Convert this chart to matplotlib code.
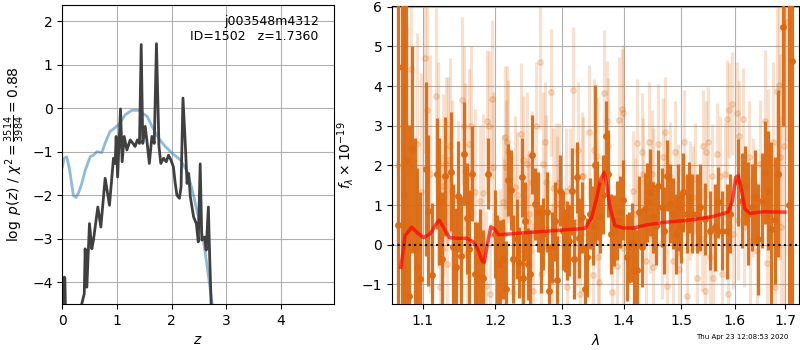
import matplotlib
matplotlib.use("Agg")
import matplotlib.pyplot as plt
from matplotlib.ticker import NullLocator, FixedLocator, FixedFormatter

# ---- left panel: redshift fit ----
z_pz = [0.0, 0.02, 0.035, 0.045, 0.06, 0.1, 0.2, 0.3, 0.33, 0.355, 0.40, 0.416, 0.447,
        0.495, 0.538, 0.568, 0.648, 0.703, 0.782, 0.861, 0.934, 0.965, 0.983, 1.01,
        1.063, 1.093, 1.13, 1.18, 1.24, 1.29, 1.33, 1.37, 1.41, 1.441, 1.47, 1.515,
        1.557, 1.59, 1.637, 1.68, 1.72, 1.766, 1.80, 1.85, 1.90, 1.94, 1.985, 2.03,
        2.064, 2.095, 2.14, 2.17, 2.205, 2.247, 2.28, 2.31, 2.34, 2.40, 2.45, 2.485,
        2.52, 2.55, 2.60, 2.63, 2.67, 2.69, 2.72, 2.76, 2.80]
logpz = [-5.2, -4.9, -3.88, -3.9, -4.9, -5.6, -6.0, -5.2, -4.9, -4.49, -4.26, -3.23, -4.11,
         -2.65, -3.23, -3.03, -2.27, -2.73, -1.61, -2.23, -1.15, -1.27, -0.65, -1.58,
         -0.02, -1.23, -0.65, -0.96, -0.73, -0.81, -0.88, -0.73, -0.81, 1.46, -0.81, -0.42,
         -0.88, -1.27, -0.65, -0.81, 1.48, -0.88, -1.27, -1.15, -1.23, -1.08, -1.19, -1.35,
         -1.73, -2.0, -2.07, -1.81, 0.23, -0.81, -1.73, -1.5, -2.04, -2.50, -2.65, -3.07,
         -1.28, -3.03, -2.96, -3.26, -2.27, -3.26, -4.49, -5.3, -6.0]

z_chi = [0.0, 0.03, 0.08, 0.13, 0.2, 0.25, 0.29, 0.35, 0.42, 0.51, 0.57, 0.63, 0.72, 0.78,
         0.87, 1.03, 1.15, 1.27, 1.39, 1.45, 1.55, 1.64, 1.76, 1.88, 2.03, 2.16, 2.28,
         2.37, 2.46, 2.58, 2.64, 2.69, 2.74, 2.80]
chi_scaled = [-1.35, -1.15, -1.12, -1.4, -2.0, -2.05, -1.96, -1.75, -1.42, -1.11, -1.08,
              -1.0, -1.02, -0.81, -0.54, -0.38, -0.15, -0.05, -0.05, -0.10, -0.19, -0.42,
              -0.69, -0.88, -1.06, -1.19, -1.45, -1.85, -2.35, -3.05, -3.57, -4.03, -4.49, -5.2]

# ---- right panel: spectrum (two orients) ----
lam_a = [1.0672, 1.0726, 1.0760, 1.0781, 1.0825, 1.0864, 1.0898, 1.0929, 1.0964, 1.1040,
         1.1074, 1.1119, 1.1185, 1.1220, 1.1260, 1.1296, 1.1373, 1.1408, 1.1441, 1.1476,
         1.1513, 1.1558, 1.1600, 1.1627, 1.1669, 1.1706, 1.1739, 1.1783, 1.1821, 1.1901,
         1.1999, 1.2032, 1.2070, 1.2109, 1.2157, 1.2191, 1.2226, 1.2264, 1.2314, 1.2352,
         1.2388, 1.2412, 1.2438, 1.2478, 1.2513, 1.2548, 1.2588, 1.2638, 1.2674, 1.2713,
         1.2765, 1.2805, 1.2842, 1.2894, 1.2930, 1.2972, 1.3014, 1.3050, 1.3086, 1.3117,
         1.3155, 1.3191, 1.3234, 1.3276, 1.3319, 1.3362, 1.3404, 1.3447, 1.3491, 1.3528,
         1.3566, 1.3610, 1.3664, 1.3708, 1.3746, 1.3786, 1.3841, 1.3885, 1.3941, 1.3996,
         1.4053, 1.4097, 1.4137, 1.4176, 1.4222, 1.4267, 1.4308, 1.4366, 1.4406, 1.4452,
         1.4510, 1.4557, 1.4597, 1.4657, 1.4697, 1.4745, 1.4803, 1.4851, 1.4910, 1.4951,
         1.4994, 1.5041, 1.5102, 1.5149, 1.5193, 1.5284, 1.5346, 1.5438, 1.5532, 1.5625,
         1.5688, 1.5751, 1.5846, 1.5909, 1.6069, 1.6134, 1.6198, 1.6263, 1.6329, 1.6394,
         1.6459, 1.6525, 1.6591, 1.6657, 1.6724, 1.6791, 1.6858, 1.6958, 1.7078, 1.7133]
flux_a = [0.5, 4.48, 1.24, 2.12, -1.29, 2.40, -0.11, -0.57, -0.87, 1.91,
          0.86, -0.76, 1.79, 1.09, -0.36, 1.72, 1.84, -0.07, -0.57, 1.22,
          -0.28, 2.29, 0.67, -0.11, 1.79, -0.74, -0.84, -0.40, -0.83, 1.79,
          0.27, -0.45, -0.49, -0.36, -1.12, 1.63, 1.38, -0.36, 0.14, -0.45,
          1.70, -0.83, 0.59, -0.49, -0.74, 2.27, 1.03, 0.82, -0.11, 0.27,
          0.82, -1.18, -0.07, 0.59, -0.89, 1.36, 0.35, 0.10, 0.10, 0.10,
          1.35, -0.36, 1.70, 0.17, 0.69, -1.12, -0.32, 0.78, 0.48, 2.02,
          1.11, 0.69, 1.26, 2.73, 1.79, 0.27, 0.35, 0.61, 0.82, 1.13,
          -0.32, -0.07, 0.06, -0.67, -0.64, 0.82, -0.07, 0.90, 1.07, 1.32,
          0.69, 0.48, 1.49, 0.94, 0.35, 1.74, 1.03, 0.78, 0.27, 0.94,
          0.44, 1.32, 0.78, 1.19, 0.78, 0.78, 0.94, 0.65, 0.35, 0.44,
          1.07, 0.35, 0.34, 0.78, 1.57, 1.11, 1.49, 0.78, 0.94, 1.19,
          0.14, 1.11, 1.83, 1.36, 0.40, 0.61, 1.79, 5.5, 1.0, 4.62]
err_a = [8.0, 8.0, 8.0, 8.0, 4.3, 2.6, 2.8, 2.5, 2.2, 2.2,
         1.9, 1.8, 1.4, 1.6, 1.7, 1.5, 1.5, 1.6, 1.5, 1.4,
         1.5, 1.3, 1.4, 1.5, 1.2, 1.3, 1.4, 1.3, 1.2, 0.9,
         1.1, 1.2, 1.1, 1.0, 1.2, 0.9, 1.0, 1.1, 1.0, 0.9,
         1.0, 1.1, 1.0, 0.9, 1.1, 1.0, 0.9, 1.0, 1.1, 0.9,
         1.0, 1.2, 0.9, 1.0, 1.1, 0.9, 1.0, 0.8, 1.0, 0.9,
         1.1, 1.0, 0.9, 1.0, 0.9, 1.1, 1.0, 0.9, 1.0, 2.0,
         1.0, 0.9, 1.0, 0.9, 1.1, 1.0, 0.9, 1.0, 0.9, 1.0,
         1.1, 0.9, 1.0, 1.1, 1.0, 0.9, 1.0, 0.9, 1.0, 1.1,
         0.9, 1.0, 0.9, 1.0, 1.1, 0.9, 1.0, 0.9, 1.0, 1.1,
         0.9, 1.0, 1.0, 0.9, 1.0, 1.0, 1.1, 0.9, 1.0, 1.1,
         0.9, 1.0, 1.2, 1.0, 1.1, 1.2, 1.0, 1.3, 1.1, 1.2,
         1.4, 1.2, 1.3, 1.5, 2.2, 1.6, 2.1, 2.5, 8.0, 8.0]

lam_b = [1.0678, 1.0743, 1.0795, 1.0843, 1.0929, 1.0973, 1.1030, 1.1061, 1.1097, 1.1177,
         1.1208, 1.1231, 1.1254, 1.1275, 1.1308, 1.1321, 1.1343, 1.1366, 1.1389, 1.1480,
         1.1536, 1.1560, 1.1573, 1.1597, 1.1633, 1.1657, 1.1713, 1.1783, 1.1830, 1.1869,
         1.1887, 1.1916, 1.1926, 1.1950, 1.1965, 1.2070, 1.2118, 1.2128, 1.2143, 1.2158,
         1.2177, 1.2191, 1.2265, 1.2290, 1.2315, 1.2374, 1.2389, 1.2413, 1.2464, 1.2476,
         1.2502, 1.2539, 1.2551, 1.2604, 1.2664, 1.2679, 1.2714, 1.2740, 1.2756, 1.2833,
         1.2843, 1.2868, 1.2910, 1.2921, 1.2961, 1.3066, 1.3077, 1.3128, 1.3180, 1.3234,
         1.3260, 1.3287, 1.3314, 1.3340, 1.3436, 1.3501, 1.3517, 1.3557, 1.3570, 1.3599,
         1.3681, 1.3717, 1.3741, 1.3802, 1.3886, 1.3929, 1.3975, 1.3986, 1.3996, 1.4166,
         1.4195, 1.4235, 1.4309, 1.4337, 1.4383, 1.4435, 1.4452, 1.4482, 1.4496, 1.4510,
         1.4597, 1.4657, 1.4675, 1.4721, 1.4745, 1.4803, 1.4862, 1.4893, 1.4951, 1.4964,
         1.5054, 1.5103, 1.5163, 1.5212, 1.5255, 1.5286, 1.5378, 1.5397, 1.5439, 1.5458,
         1.5501, 1.5532, 1.5564, 1.5594, 1.5658, 1.5719, 1.5751, 1.5814, 1.5847, 1.5877,
         1.5896, 1.5942, 1.5973, 1.6038, 1.6068, 1.6088, 1.6165, 1.6179, 1.6282, 1.6296,
         1.6362, 1.6429, 1.6493, 1.6594, 1.6628, 1.6660, 1.6749, 1.6795, 1.6842, 1.6883,
         1.6893, 1.6914, 1.6975, 1.7030]
flux_b = [2.0, 3.0, 0.5, 4.44, 2.54, 1.32, 4.71, 3.40, 1.79, 3.76,
          2.00, -1.08, -0.11, 1.49, 2.04, -0.49, 2.14, 2.50, 1.36, 1.11,
          3.64, 3.00, 1.87, -0.21, 2.54, 3.00, 1.32, 1.11, 1.30, -1.04,
          3.11, 2.98, -1.25, 3.67, 1.95, -0.40, 1.07, 0.27, 2.71, 1.95,
          2.60, 2.36, -1.20, 1.45, 1.24, 2.79, -0.11, 2.14, 2.04, 0.59,
          0.78, 1.57, -1.16, 3.00, 4.61, -0.74, 2.04, 2.60, 1.57, 3.84,
          -0.66, 1.43, 1.46, 1.03, 1.57, 1.35, -1.08, 1.43, 3.89, 0.56,
          2.39, -1.25, 1.74, 1.72, 2.84, -0.76, 2.39, 2.23, -0.32, -0.95,
          3.82, 3.13, 2.50, -1.20, -0.53, 3.14, 3.43, 3.33, -0.08, 1.36,
          0.78, 2.57, 2.33, 1.79, -0.40, 2.60, 0.69, 1.79, -0.57, 1.53,
          2.54, 0.02, 2.20, 2.84, -1.04, 1.70, -0.40, 2.33, 1.15, -0.61,
          2.60, -1.29, 1.11, 1.19, 1.66, -0.83, 0.14, 2.50, -1.16, 2.33,
          2.58, -0.32, 1.74, -0.83, 2.28, 1.74, -0.74, 1.79, 3.16, -1.25,
          3.39, 3.55, 0.27, 3.31, 0.61, 2.73, 3.16, 0.44, 2.22, 0.10,
          1.19, -0.15, 2.04, 3.12, -0.45, 2.22, 2.60, -1.08, 3.87, 4.03,
          2.22, 0.44, 2.5, 5.61]
err_b = [6.0, 4.0, 5.0, 2.6, 2.8, 3.0, 2.4, 2.6, 3.0, 2.2,
         2.6, 2.5, 2.4, 2.3, 2.2, 2.4, 2.1, 2.2, 2.3, 2.0,
         2.1, 2.0, 2.2, 2.1, 1.9, 2.0, 2.1, 1.9, 2.0, 1.9,
         1.8, 1.9, 1.8, 2.0, 1.9, 1.8, 1.7, 1.9, 1.8, 1.7,
         1.9, 1.8, 1.7, 1.8, 1.6, 1.8, 1.7, 1.6, 1.8, 1.7,
         1.6, 1.8, 1.7, 1.6, 1.7, 1.6, 1.8, 1.5, 1.7, 1.6,
         1.7, 1.5, 1.6, 1.7, 1.5, 1.6, 1.7, 1.5, 1.6, 1.6,
         1.7, 1.5, 1.6, 1.5, 1.7, 1.6, 1.8, 1.5, 1.6, 1.7,
         1.6, 1.5, 1.7, 1.6, 1.5, 1.6, 1.5, 1.7, 1.6, 1.5,
         1.4, 1.6, 1.5, 1.4, 1.6, 1.5, 1.4, 1.6, 1.5, 1.4,
         1.5, 1.4, 1.5, 1.4, 1.5, 1.4, 1.5, 1.3, 1.4, 1.5,
         1.3, 1.4, 1.5, 1.3, 1.4, 1.5, 1.3, 1.4, 1.5, 1.3,
         1.4, 1.5, 1.3, 1.4, 1.3, 1.5, 1.4, 1.3, 1.5, 1.4,
         1.2, 1.3, 1.4, 1.3, 1.5, 1.4, 1.3, 1.5, 1.4, 1.6,
         1.5, 1.7, 1.6, 1.8, 1.9, 1.7, 2.0, 2.2, 2.1, 2.4,
         2.6, 2.8, 5.0, 3.0]

lam_model = [1.0715, 1.0768, 1.0855, 1.0921, 1.1008, 1.1097, 1.1177, 1.1220, 1.1274, 1.1356,
             1.1455, 1.1589, 1.1680, 1.1750, 1.1810, 1.1842, 1.1888, 1.1936, 1.1983, 1.2052,
             1.2216, 1.2513, 1.3022, 1.3367, 1.3475, 1.3557, 1.3621, 1.3680, 1.3719, 1.3774,
             1.3857, 1.3996, 1.4167, 1.4397, 1.4689, 1.5163, 1.5592, 1.5874, 1.5958, 1.6022,
             1.6067, 1.6134, 1.6198, 1.6296, 1.6560, 1.6995]
flux_model = [-0.57, 0.23, 0.44, 0.31, 0.18, 0.27, 0.52, 0.62, 0.44, 0.18,
              0.16, 0.16, 0.08, -0.11, -0.40, -0.45, 0.02, 0.45, 0.40, 0.25,
              0.27, 0.31, 0.37, 0.41, 0.69, 1.19, 1.66, 1.82, 1.53, 0.94,
              0.48, 0.42, 0.42, 0.50, 0.56, 0.62, 0.71, 0.82, 1.11, 1.70,
              1.74, 1.36, 0.90, 0.79, 0.83, 0.82]

z_ticks = [0, 1, 2, 3, 4]
pz_ticks = [-4, -3, -2, -1, 0, 1, 2]
lam_ticks = [1.1, 1.2, 1.3, 1.4, 1.5, 1.6, 1.7]
flux_ticks = [-1, 0, 1, 2, 3, 4, 5, 6]

orange = "#dc6a12"

fig = plt.figure(figsize=(8, 3.5), dpi=100)
ax1 = fig.add_axes([0.078, 0.131, 0.339, 0.855])
ax2 = fig.add_axes([0.490, 0.131, 0.509, 0.852])

# left: p(z)
ax1.plot(z_chi, chi_scaled, color="tab:blue", alpha=0.5, linewidth=2)
ax1.plot(z_pz, logpz, color="0.25", linewidth=2)
ax1.set_xlim(0, 4.96)
ax1.set_ylim(-4.5, 2.37)
ax1.set_xticks(z_ticks)
ax1.set_yticks(pz_ticks)
ax1.grid(True)
ax1.set_xlabel("$z$")
ax1.set_ylabel(r"$\log\ p(z)$ / $\chi^2=\frac{3514}{3984}=0.88$")
ax1.text(0.945, 0.965, "j003548m4312\nID=1502   z=1.7360", transform=ax1.transAxes,
         ha="right", va="top", fontsize=9, linespacing=1.15)

# right: spectrum
ax2.errorbar(lam_b, flux_b, yerr=err_b, color=orange, alpha=0.2, marker="o", ms=4,
             linestyle="none", elinewidth=2.3, zorder=2)
ax2.errorbar(lam_a, flux_a, yerr=err_a, color=orange, alpha=0.95, marker="o", ms=4,
             linestyle="none", elinewidth=2.3, zorder=3)
ax2.plot(lam_model, flux_model, color="red", alpha=0.7, linewidth=2.5, zorder=5)
ax2.axhline(0, color="k", linestyle=":", linewidth=1.5, zorder=6)

ax2.set_xscale("log")
ax2.set_xlim(1.06, 1.729)
ax2.set_ylim(-1.5, 6.02)
ax2.xaxis.set_major_locator(FixedLocator(lam_ticks))
ax2.xaxis.set_major_formatter(FixedFormatter([f"{t:.1f}" for t in lam_ticks]))
ax2.xaxis.set_minor_locator(NullLocator())
ax2.set_yticks(flux_ticks)
ax2.grid(True)
ax2.set_xlabel(r"$\lambda$")
ax2.set_ylabel(r"$f_\lambda\times10^{-19}$")

fig.text(0.985, 0.028, "Thu Apr 23 12:08:53 2020", ha="right", va="bottom", fontsize=5)

fig.savefig("out.png", dpi=100)
